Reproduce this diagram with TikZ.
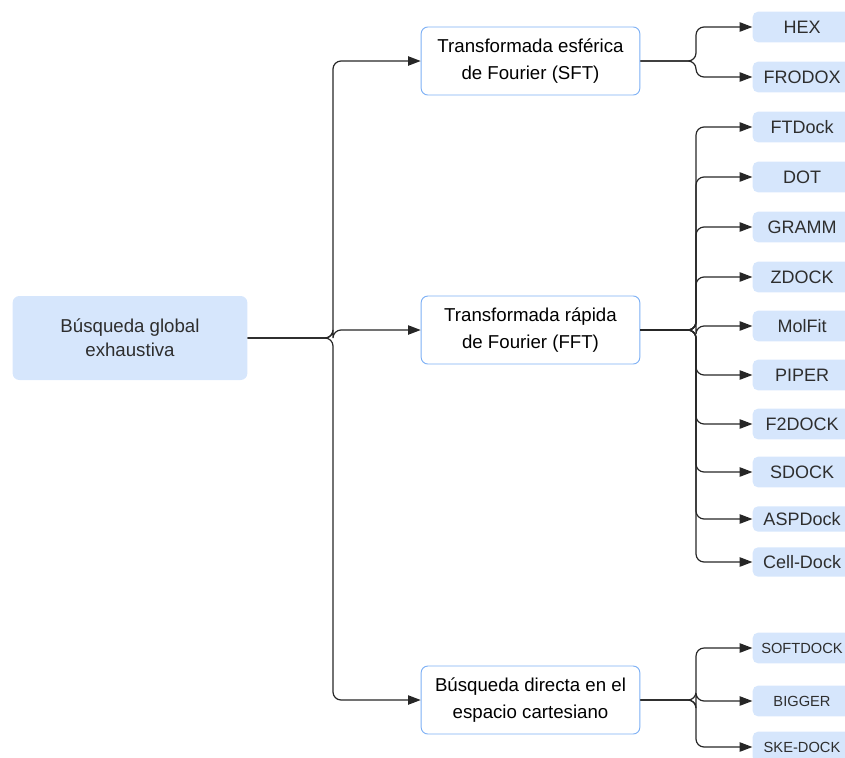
\documentclass[tikz,border=0pt]{standalone}
\usepackage{fontspec}
\setmainfont{Liberation Sans}
\usetikzlibrary{arrows.meta}

\definecolor{leafblue}{HTML}{D6E6FC}
\definecolor{edgeblue}{HTML}{7DB0F5}
\definecolor{txtgray}{HTML}{2E2E2E}

\tikzset{
  rootbox/.style={fill=leafblue, rounded corners=5pt, minimum width=176pt, minimum height=63pt,
    align=center, text=txtgray, font=\fontsize{14}{18}\selectfont},
  methodbox/.style={draw=edgeblue, line width=0.7pt, fill=white, rounded corners=5pt, minimum width=164pt, minimum height=51pt,
    align=center, font=\fontsize{14}{20}\selectfont},
  toolbox/.style={fill=leafblue, rounded corners=4pt, minimum width=74pt, minimum height=23pt,
    text=txtgray, font=\fontsize{13.5}{16}\selectfont},
  smallbox/.style={toolbox, font=\fontsize{11}{13}\selectfont},
  link/.style={draw=black!85, line width=0.9pt, rounded corners=6pt,
    -{Triangle[length=9.5pt, width=7pt]}}
}

\begin{document}
\begin{tikzpicture}[x=0.75pt, y=-0.75pt]
		\useasboundingbox (0,0) rectangle (845,757);
		\clip (0,0) rectangle (845,757);

		% Root
		\node[rootbox] (root) at (130,338) {Búsqueda global\\exhaustiva};

		% Methods
		\node[methodbox] (sft) at (530.5,61) {Transformada esférica\\de Fourier (SFT)};
		\node[methodbox] (fft) at (530.5,330) {Transformada rápida\\de Fourier (FFT)};
		\node[methodbox] (dir) at (530.5,700) {Búsqueda directa en el\\espacio cartesiano};

		% Tools (SFT)
		\node[toolbox] (hex) at (802,27) {HEX};
		\node[toolbox] (frodox) at (802,77) {FRODOX};

		% Tools (FFT)
		\node[toolbox] (ftdock) at (802,127) {FTDock};
		\node[toolbox] (dot) at (802,177) {DOT};
		\node[toolbox] (gramm) at (802,227) {GRAMM};
		\node[toolbox] (zdock) at (802,277) {ZDOCK};
		\node[toolbox] (molfit) at (802,326) {MolFit};
		\node[toolbox] (piper) at (802,375) {PIPER};
		\node[toolbox] (f2dock) at (802,424) {F2DOCK};
		\node[toolbox] (sdock) at (802,472) {SDOCK};
		\node[toolbox, minimum height=19pt] (aspdock) at (802,519) {ASPDock};
		\node[toolbox, minimum height=22pt] (celldock) at (802,562) {Cell-Dock};

		% Tools (direct search)
		\node[smallbox] (softdock) at (802,648) {SOFTDOCK};
		\node[smallbox] (bigger) at (802,701) {BIGGER};
		\node[smallbox] (skedock) at (802,747) {SKE-DOCK};

		% Junctions
		\coordinate (jroot) at (333,338);
		\coordinate (jsft) at (696,61);
		\coordinate (jfft) at (696,330);
		\coordinate (jdir) at (696,700);

		% Root connectors
		\foreach \m in {sft,fft,dir}
			\draw[link] (root.east) -- (jroot) |- (\m.west);

		% SFT connectors
		\foreach \t in {hex,frodox}
			\draw[link] (sft.east) -- (jsft) |- (\t.west);

		% FFT connectors
		\foreach \t in {ftdock,dot,gramm,zdock,molfit,piper,f2dock,sdock,aspdock,celldock}
			\draw[link] (fft.east) -- (jfft) |- (\t.west);

		% Direct search connectors
		\foreach \t in {softdock,bigger,skedock}
			\draw[link] (dir.east) -- (jdir) |- (\t.west);
	\end{tikzpicture}
\end{document}
